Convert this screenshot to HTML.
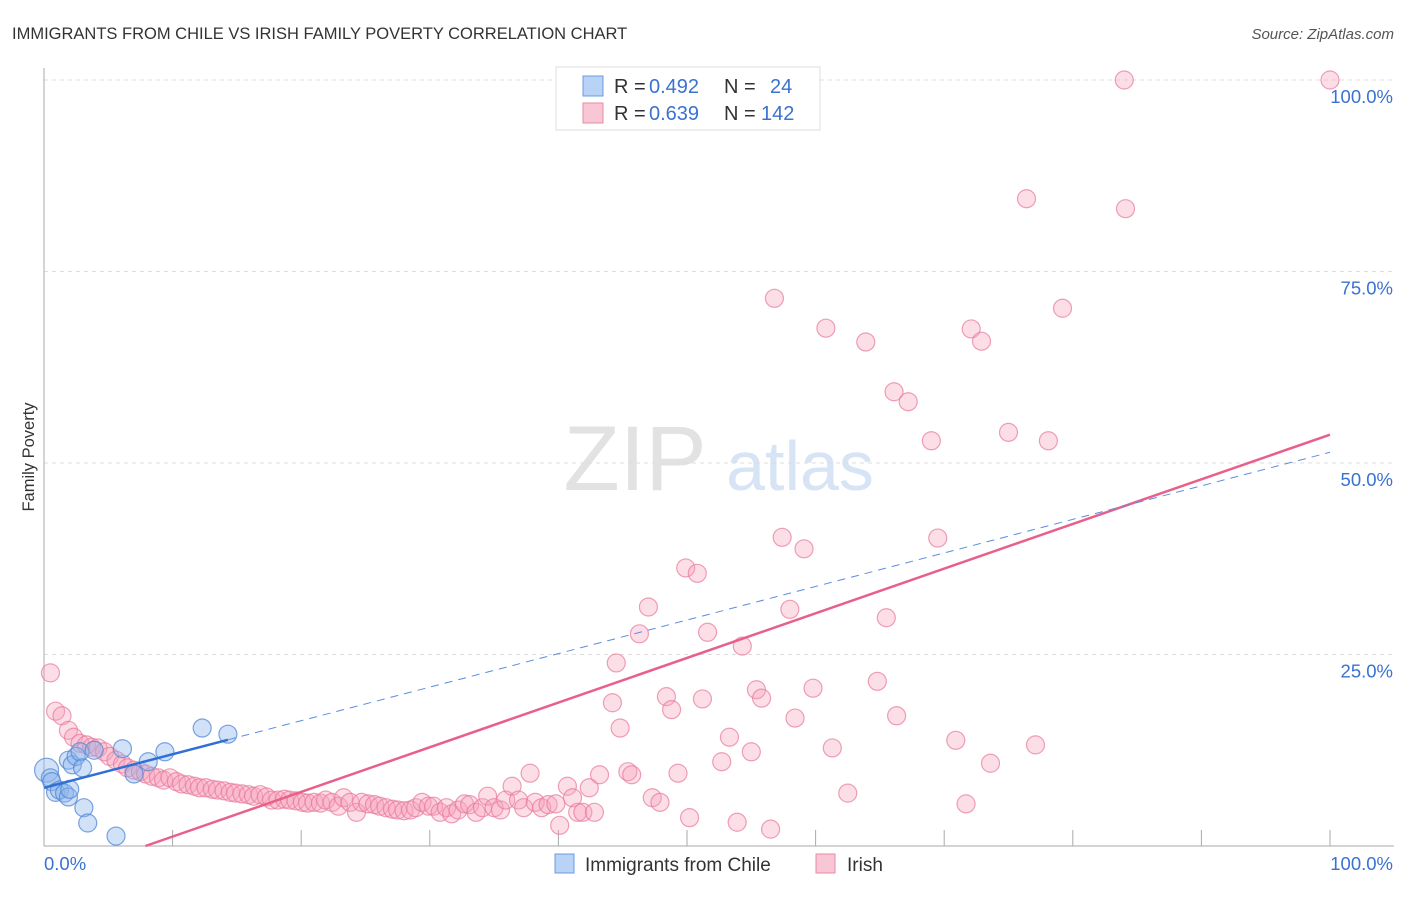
<!DOCTYPE html>
<html><head><meta charset="utf-8"><style>
body{margin:0;background:#fff;font-family:"Liberation Sans",sans-serif;}
svg text{font-family:"Liberation Sans",sans-serif;}
</style></head><body>
<svg id="chart" width="1406" height="892" xmlns="http://www.w3.org/2000/svg">
<text x="12" y="39" font-size="16.5" fill="#333">IMMIGRANTS FROM CHILE VS IRISH FAMILY POVERTY CORRELATION CHART</text>
<text x="1394" y="39" font-size="15" fill="#555" font-style="italic" text-anchor="end">Source: ZipAtlas.com</text>
<text x="34" y="457" font-size="16.5" fill="#333" text-anchor="middle" transform="rotate(-90 34 457)">Family Poverty</text>
<g><text x="635" y="490" font-size="92" fill="#e2e2e2" font-family="Liberation Serif" text-anchor="middle">ZIP</text><text x="800" y="490" font-size="70" fill="#d6e4f5" text-anchor="middle">atlas</text></g>
<g id="grid"></g><g id="axes"></g><g id="pts"></g><g id="lines"></g>
<g>
<rect x="556" y="67" width="264" height="63" fill="#fff" stroke="#ddd"/>
<rect x="583" y="76" width="20" height="20" fill="#b8d3f5" stroke="#6a9be0"/>
<rect x="583" y="103" width="20" height="20" fill="#f9c6d5" stroke="#e88aa6"/>
<g font-size="20" fill="#333"><text x="614" y="93">R =</text><text x="649" y="93" fill="#3a72d0">0.492</text><text x="724" y="93">N =</text><text x="770" y="93" fill="#3a72d0">24</text></g>
<g font-size="20" fill="#333"><text x="614" y="120">R =</text><text x="649" y="120" fill="#3a72d0">0.639</text><text x="724" y="120">N =</text><text x="761" y="120" fill="#3a72d0">142</text></g>
</g>
<g>
<rect x="555" y="854" width="19" height="19" fill="#b8d3f5" stroke="#6a9be0"/>
<text x="585" y="871" font-size="19" fill="#333">Immigrants from Chile</text>
<rect x="816" y="854" width="19" height="19" fill="#f9c6d5" stroke="#e88aa6"/>
<text x="847" y="871" font-size="19" fill="#333">Irish</text>
</g>
</svg>
<script>
const yTicks=[25,50,75,100];
const yTickLabels=["25.0%","50.0%","75.0%","100.0%"];
const xTicks=[0,10,20,30,40,50,60,70,80,90,100];
const chileX=[0.2,0.5,0.6,0.9,1.2,1.6,1.9,2.0,1.9,2.2,2.5,2.8,3.0,3.1,3.4,3.9,5.6,6.1,7.0,8.1,9.4,12.3,14.3];
const chileY=[9.9,8.9,8.4,7.0,7.3,6.9,6.4,7.4,11.2,10.6,11.7,12.3,10.2,5.0,3.0,12.5,1.3,12.7,9.4,11.0,12.3,15.4,14.6];
const irishX=[0.5,0.9,1.4,1.9,2.3,2.8,3.3,3.7,4.2,4.7,5.1,5.6,6.1,6.5,7.0,7.5,7.9,8.4,8.9,9.3,9.8,10.3,10.7,11.2,11.7,12.1,12.6,13.1,13.5,14.0,14.5,14.9,15.4,15.9,16.3,16.8,17.3,17.7,18.2,18.7,19.1,19.6,20.1,20.5,21.0,21.5,21.9,22.4,22.9,23.3,23.8,24.3,24.7,25.2,25.7,26.1,26.6,27.1,27.5,28.0,28.5,28.9,29.4,29.9,30.3,30.8,31.3,31.7,32.2,32.7,33.1,33.6,34.1,34.5,35.0,35.5,35.9,36.4,36.9,37.3,37.8,38.2,38.7,39.2,39.8,40.1,40.7,41.1,41.5,41.9,42.4,42.8,43.2,44.2,44.5,44.8,45.4,45.7,46.3,47.0,47.3,47.9,48.4,48.8,49.3,49.9,50.2,50.8,51.2,51.6,52.7,53.3,53.9,54.3,55.0,55.4,55.8,56.5,56.8,57.4,58.0,58.4,59.1,59.8,60.8,61.3,62.5,63.9,64.8,65.5,66.1,66.3,67.2,69.0,69.5,70.9,71.7,72.1,72.9,73.6,75.0,76.4,77.1,78.1,79.2,84.0,84.1,100];
const irishY=[22.6,17.6,17.0,15.1,14.2,13.4,13.2,12.9,12.8,12.3,11.7,11.2,10.7,10.2,9.9,9.7,9.4,9.1,8.9,8.6,8.9,8.4,8.1,8.0,7.8,7.6,7.6,7.4,7.3,7.2,7.0,6.9,6.8,6.7,6.5,6.7,6.4,6.0,6.0,6.1,6.0,5.9,5.7,5.6,5.7,5.6,6.0,5.7,5.2,6.3,5.7,4.4,5.7,5.5,5.4,5.2,5.0,4.8,4.7,4.6,4.7,5.0,5.7,5.2,5.2,4.4,5.0,4.2,4.7,5.5,5.4,4.4,5.0,6.5,5.0,4.7,6.0,7.8,6.0,5.0,9.5,5.7,5.0,5.4,5.5,2.7,7.8,6.3,4.4,4.4,7.6,4.4,9.3,18.7,23.9,15.4,9.7,9.3,27.7,31.2,6.3,5.7,19.5,17.8,9.5,36.3,3.7,35.6,19.2,27.9,11.0,14.2,3.1,26.1,12.3,20.4,19.3,2.2,71.5,40.3,30.9,16.7,38.8,20.6,67.6,12.8,6.9,65.8,21.5,29.8,59.3,17.0,58.0,52.9,40.2,13.8,5.5,67.5,65.9,10.8,54.0,84.5,13.2,52.9,70.2,100,83.2,100];
const chileTrend=[7.6,0.438];
const irishTrend=[-4.6,0.583];
const NS="http://www.w3.org/2000/svg";
const X=v=>44+v*12.86, Y=v=>846-v*7.66;
function mk(t,a,p){const e=document.createElementNS(NS,t);for(const k in a)e.setAttribute(k,a[k]);document.getElementById(p).appendChild(e);return e;}
yTicks.forEach((t,i)=>{
 const g=mk('line',{x1:44,x2:1394,y1:Y(t),y2:Y(t),stroke:'#ddd','stroke-dasharray':'4,4'},'grid');
 
 
 const l=mk('text',{x:1393,y:Y(t)+23,'font-size':18.5,fill:'#3a72d0','text-anchor':'end'},'grid');
 l.textContent=yTickLabels[i];
 
 
});
const ax=mk('line',{x1:44,x2:44,y1:68,y2:846,stroke:'#aaa'},'axes');


const bx=mk('line',{x1:44,x2:1394,y1:846,y2:846,stroke:'#aaa'},'axes');


xTicks.forEach(t=>{
 const tk=mk('line',{x1:X(t),x2:X(t),y1:830,y2:846,stroke:'#aaa'},'axes');
 
 
});
const x0=mk('text',{x:44,y:870,'font-size':18.5,fill:'#3a72d0'},'axes');x0.textContent='0.0%';


const x1=mk('text',{x:1393,y:870,'font-size':18.5,fill:'#3a72d0','text-anchor':'end'},'axes');x1.textContent='100.0%';


irishX.forEach((v,i)=>{
 const c=mk('circle',{cx:X(v),cy:Y(irishY[i]),r:9,fill:'rgba(245,160,185,0.35)',stroke:'rgba(232,120,155,0.7)','stroke-width':1.2},'pts');
 
 
});
chileX.forEach((v,i)=>{
 const c=mk('circle',{cx:X(v),cy:Y(chileY[i]),r:i==0?12:9,fill:'rgba(140,180,235,0.4)',stroke:'rgba(80,135,215,0.75)','stroke-width':1.2},'pts');
 
 
});
const ps=-irishTrend[0]/irishTrend[1];
const pl=mk('line',{x1:X(ps),y1:Y(0),x2:X(100),y2:Y(irishTrend[0]+irishTrend[1]*100),stroke:'#e8608a','stroke-width':2.5},'lines');


const cmax=Math.max(...chileX);
const bl=mk('line',{x1:X(0),y1:Y(chileTrend[0]),x2:X(cmax),y2:Y(chileTrend[0]+chileTrend[1]*cmax),stroke:'#2f6fd6','stroke-width':2.5},'lines');


const bd=mk('line',{x1:X(cmax),y1:Y(chileTrend[0]+chileTrend[1]*cmax),x2:X(100),y2:Y(chileTrend[0]+chileTrend[1]*100),stroke:'#5a8ede','stroke-width':1,'stroke-dasharray':'8,6'},'lines');


</script>
</body></html>
